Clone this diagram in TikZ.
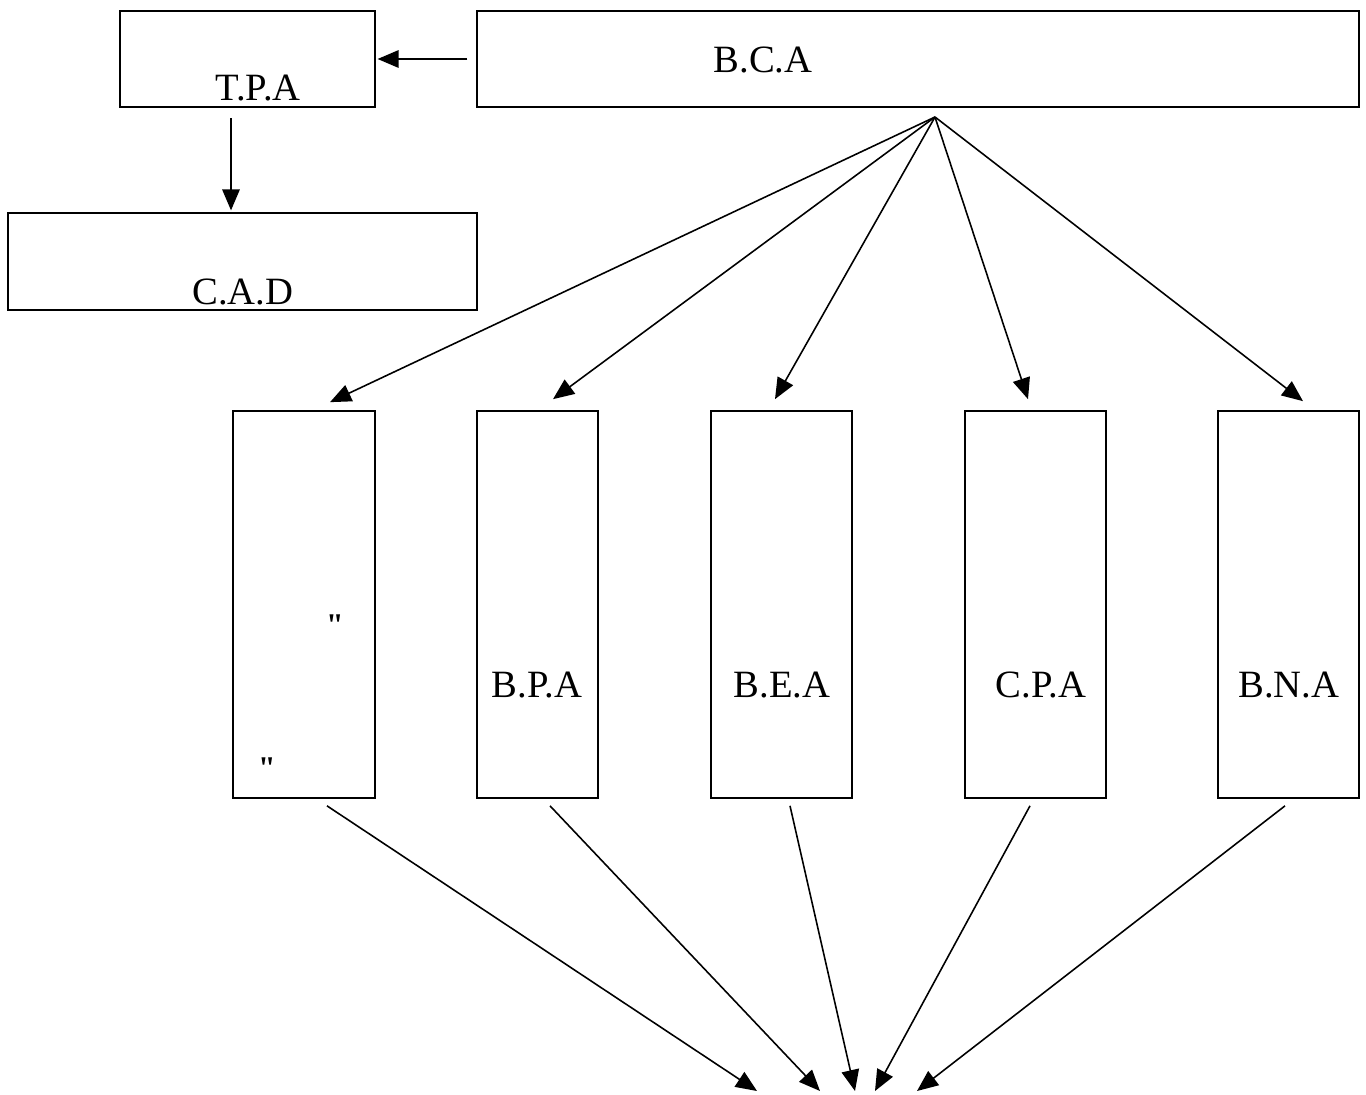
\documentclass[tikz,border=0pt]{standalone}
\usepackage{fontspec}
\setmainfont{Liberation Serif}
\usepackage{tikz}
\usetikzlibrary{positioning, arrows.meta, calc}

\begin{document}
\begin{tikzpicture}[
        x=0.02cm, y=-0.02cm,
        box/.style={draw, line width=1pt, minimum width=#1, inner sep=0pt},
        wide/.style={box=#1, minimum height=1.93cm},
        tall/.style={box=#1, minimum height=7.74cm},
        lbl/.style={font=\fontsize{22}{26}\selectfont, inner sep=0pt},
        arr/.style={-{Triangle[length=12pt, width=10pt]}, line width=0.9pt}
    ]
        \useasboundingbox (0,0) rectangle (1366,1095);

        % top row
        \node[wide=5.1cm] (tpa) at (247.5,59) {};
        \node[wide=17.64cm] (bca) at (918,59) {};
        \node[wide=9.38cm] (cad) at (242.5,261.5) {};
        \node[lbl] (tpatxt) at (258,88) {T.P.A};
        \node[lbl] (bcatxt) at (763,60) {B.C.A};
        \node[lbl] (cadtxt) at (243,292) {C.A.D};

        % columns
        \node[tall=2.84cm] (col) at (304,604.5) {};
        \node[tall=2.42cm] (bpa) at (537.5,604.5) {};
        \node[tall=2.82cm] (bea) at (781.5,604.5) {};
        \node[tall=2.82cm] (cpa) at (1035.5,604.5) {};
        \node[tall=2.82cm] (bna) at (1288.5,604.5) {};
        \node[lbl, font=\fontsize{18}{20}\selectfont\bfseries] (qa) at (335,625) {\textquotedbl};
        \node[lbl, font=\fontsize{18}{20}\selectfont\bfseries] (qb) at (267,768) {\textquotedbl};
        \node[lbl] (bpatxt) at (537,685) {B.P.A};
        \node[lbl] (beatxt) at (782,685) {B.E.A};
        \node[lbl] (cpatxt) at (1041,685) {C.P.A};
        \node[lbl] (bnatxt) at (1289,685) {B.N.A};

        \coordinate (fan) at (935,117);
        \coordinate (sink1) at (757,1091);
        \coordinate (sink2) at (820,1091);
        \coordinate (sink3) at (855,1091);
        \coordinate (sink4) at (875,1091);
        \coordinate (sink5) at (917,1091);

        \draw[arr, shorten <=5pt, shorten >=1pt] (bca.west) -- (tpa.east);
        \draw[arr] ($(tpa.south)+(-16.5,10)$) -- ($(cad.north)+(-11.5,-2)$);

        \draw[arr] (fan) -- ($(col.north)+(26,-8)$);
        \draw[arr] (fan) -- ($(bpa.north)+(15.5,-11)$);
        \draw[arr] (fan) -- ($(bea.north)+(-6.5,-11)$);
        \draw[arr] (fan) -- ($(cpa.north)+(-7.5,-11)$);
        \draw[arr] (fan) -- ($(bna.north)+(14.5,-9)$);

        \draw[arr] ($(col.south)+(23,7)$) -- (sink1);
        \draw[arr] ($(bpa.south)+(12.5,7)$) -- (sink2);
        \draw[arr] ($(bea.south)+(8.5,7)$) -- (sink3);
        \draw[arr] ($(cpa.south)+(-5.5,7)$) -- (sink4);
        \draw[arr] ($(bna.south)+(-3.5,7)$) -- (sink5);
    \end{tikzpicture}
\end{document}
